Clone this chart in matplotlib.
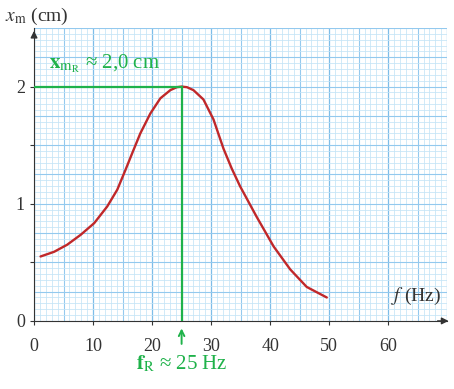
import numpy as np
import matplotlib.pyplot as plt

# resonance curve
f_hz = [1.1, 3.4, 5.6, 7.9, 10.2, 12.4, 14.1, 15.5, 16.7, 18, 19.7, 21.4, 23.1, 24.2, 25,
        25.9, 27, 28.7, 30.4, 32.1, 33.5, 34.9, 37.7, 40.6, 43.4, 46.2, 49.6]
xm_cm = [0.55, 0.59, 0.65, 0.735, 0.835, 0.977, 1.12, 1.29, 1.44, 1.60, 1.77, 1.90, 1.97, 1.995, 2.0,
         1.995, 1.97, 1.89, 1.72, 1.47, 1.30, 1.15, 0.89, 0.635, 0.44, 0.29, 0.2]
x_ticks = [0, 10, 20, 30, 40, 50, 60]
y_ticks = [0, 1, 2]
f_res = 25
xm_res = 2.0

green = '#1fb24a'
red = '#c0282a'
ink = '#333333'

plt.rcParams['font.family'] = ['Liberation Serif', 'DejaVu Serif']
plt.rcParams['mathtext.fontset'] = 'stix'
fig = plt.figure(figsize=(4.54, 3.89), dpi=100)
ax = fig.add_axes([0.075, 0.175, 0.91, 0.753])
ax.set_xlim(0, 70)
ax.set_ylim(0, 2.5)

# graph paper
for v in np.arange(0, 70.1, 1):
    if v % 10 == 0:
        c, lw = '#7dbde8', 0.9
    elif v % 5 == 0:
        c, lw = '#93c9ee', 0.8
    else:
        c, lw = '#c4e4f6', 0.55
    ax.axvline(v, color=c, lw=lw, zorder=0)
for v in np.arange(0, 2.501, 0.05):
    k = int(round(v / 0.05))
    if k % 5 == 0:
        c, lw = '#93c9ee', 0.8
    else:
        c, lw = '#c4e4f6', 0.55
    ax.axhline(v, color=c, lw=lw, zorder=0)

for s in ['top', 'right']:
    ax.spines[s].set_visible(False)
ax.spines['left'].set_color(ink)
ax.spines['bottom'].set_color(ink)
ax.set_xticks(x_ticks)
ax.set_yticks([0, 0.5, 1, 1.5, 2])
ax.set_yticklabels(['0', '', '1', '', '2'])
ax.tick_params(labelsize=13, length=3, color=ink, labelcolor=ink)
ax.tick_params(axis='x', pad=9)

# axis arrows
ax.annotate('', xy=(1.01, 0), xytext=(0.97, 0), xycoords='axes fraction',
            arrowprops=dict(arrowstyle='-|>', color=ink, lw=1), annotation_clip=False)
ax.annotate('', xy=(0, 1.0), xytext=(0, 0.97), xycoords='axes fraction',
            arrowprops=dict(arrowstyle='-|>', color=ink, lw=1), annotation_clip=False)

ax.plot(f_hz, xm_cm, color=red, lw=1.7, zorder=3, solid_capstyle='round',
        solid_joinstyle='round')

# resonance markers
ax.plot([0, f_res], [xm_res, xm_res], color=green, lw=1.6, zorder=4)
ax.plot([f_res, f_res], [0, xm_res], color=green, lw=1.6, zorder=4)
ax.annotate('', xy=(f_res, -0.04), xytext=(f_res, -0.22),
            arrowprops=dict(arrowstyle='->', color=green, lw=1.4), annotation_clip=False)
ax.text(f_res, -0.28, r'$\mathbf{f}_{\mathrm{R}}$ ≈ 25 Hz', color=green, fontsize=15,
        ha='center', va='top', clip_on=False)
ax.text(2.5, 2.2, r'$\mathbf{x}_{\mathrm{m_R}}$ ≈ 2,0 cm', color=green, fontsize=15,
        ha='left', va='center')

ax.text(-5.0, 2.56, r'$x_{\mathrm{m}}$ (cm)', fontsize=14, color=ink, ha='left',
        va='baseline', clip_on=False)
ax.text(69, 0.12, r'$f$ (Hz)', fontsize=14, color=ink, ha='right', va='bottom')

fig.savefig('out.png', dpi=100)
